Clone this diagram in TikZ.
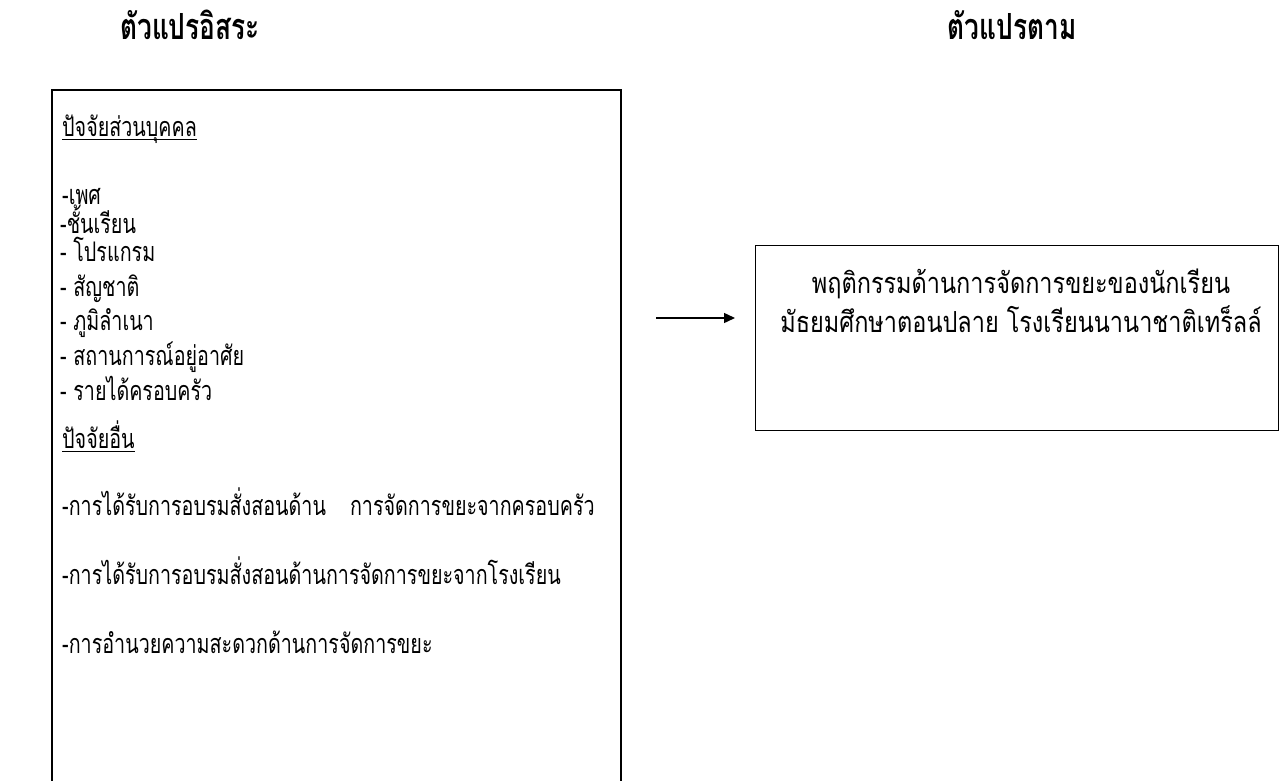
\documentclass[tikz,border=0pt]{standalone}
\usepackage{fontspec}
\newfontfamily\thai[Script=Thai,FakeStretch=0.73]{Loma}
\newfontfamily\thaiw[Script=Thai,FakeStretch=0.81]{Loma}
\usetikzlibrary{arrows.meta}
\begin{document}
\begin{tikzpicture}[x=1pt,y=-1pt,
  txt/.style={font=\thai\fontsize{27}{31}\selectfont, inner sep=0pt, anchor=base west},
  ctxt/.style={font=\thaiw\fontsize{29}{33}\selectfont, inner sep=0pt, anchor=base},
  ttl/.style={font=\thai\bfseries\fontsize{36}{40}\selectfont, inner sep=0pt, anchor=base},
  boxline/.style={draw, line width=1.4pt},
  uline/.style={line width=0.9pt}]
\useasboundingbox (0,0) rectangle (1279,781);
% titles
\node[ttl] (t1) at (190,40) {ตัวแปรอิสระ};
\node[ttl] (t2) at (1012,40) {ตัวแปรตาม};
% left box
\coordinate (lb1) at (52,800);
\coordinate (lb2) at (52,90);
\coordinate (lb3) at (621,90);
\coordinate (lb4) at (621,800);
\draw[boxline] (lb1) -- (lb2) -- (lb3) -- (lb4);
% left texts
\node[txt] (h1) at (62,136) {ปัจจัยส่วนบุคคล};
\draw[uline] ([yshift=-3pt]h1.base west) -- ([yshift=-3pt]h1.base east);
\node[txt] (i1) at (62,204) { -เพศ};
\node[txt] (i2) at (60,233) {-ชั้นเรียน};
\node[txt] (i3) at (60,261) {- โปรแกรม};
\node[txt] (i4) at (60,296) {- สัญชาติ};
\node[txt] (i5) at (60,330) {- ภูมิลำเนา};
\node[txt] (i6) at (60,365) {- สถานการณ์อยู่อาศัย};
\node[txt] (i7) at (60,400) {- รายได้ครอบครัว};
\node[txt] (h2) at (62,448) {ปัจจัยอื่น};
\draw[uline] ([yshift=-3pt]h2.base west) -- ([yshift=-3pt]h2.base east);
\node[txt] (j1) at (62,515) {-การได้รับการอบรมสั่งสอนด้าน\hspace{24pt}การจัดการขยะจากครอบครัว};
\node[txt] (j2) at (62,584) {-การได้รับการอบรมสั่งสอนด้านการจัดการขยะจากโรงเรียน};
\node[txt] (j3) at (62,653) {-การอำนวยความสะดวกด้านการจัดการขยะ};
% right box
\node[draw, line width=1.4pt, minimum width=523pt, minimum height=185pt, anchor=north west, inner sep=0pt] (dep) at (755,245) {};
\node[ctxt] (d1) at (1021,293) {พฤติกรรมด้านการจัดการขยะของนักเรียน};
\node[ctxt] (d2) at (1021,332) {มัธยมศึกษาตอนปลาย โรงเรียนนานาชาติเทร็ลล์};
% arrow
\coordinate (a1) at (656,318);
\coordinate (a2) at (735,318);
\draw[line width=1.4pt, -{Triangle[length=11pt,width=10pt]}] (a1) -- (a2);
\end{tikzpicture}
\end{document}
